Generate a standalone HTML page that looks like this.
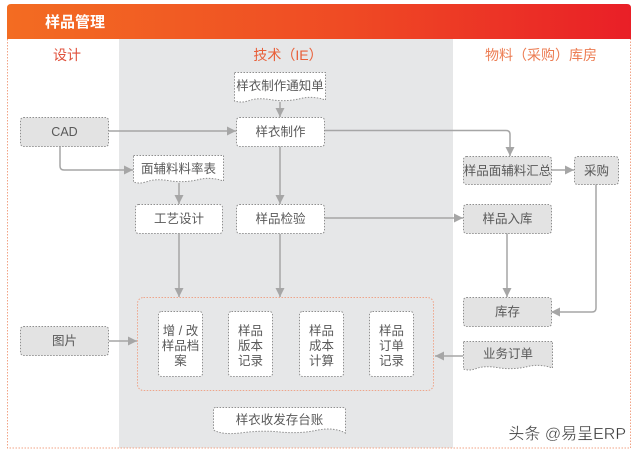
<!DOCTYPE html>
<html>
<head>
<meta charset="utf-8">
<style>
html,body{margin:0;padding:0;background:#fff;}
body{width:640px;height:457px;overflow:hidden;}
svg{display:block;}
text{font-family:"Liberation Sans","Noto Sans CJK SC",sans-serif;}
</style>
</head>
<body>
<svg width="640" height="457" viewBox="0 0 640 457" xmlns="http://www.w3.org/2000/svg">
<defs>
<linearGradient id="hg" x1="0" y1="0" x2="1" y2="0">
<stop offset="0" stop-color="#f36c22"/>
<stop offset="0.55" stop-color="#ef4a24"/>
<stop offset="1" stop-color="#e91f27"/>
</linearGradient>
<marker id="ar" viewBox="0 0 10 10" refX="10" refY="5" markerWidth="10" markerHeight="9" markerUnits="userSpaceOnUse" orient="auto">
<path d="M0,0 L10,5 L0,10 z" fill="#a6a6a6"/>
</marker>
</defs>

<!-- gray band -->
<rect x="119" y="39" width="334" height="409" fill="#e6e7e8"/>
<!-- outer dotted border -->
<path d="M7.5,39 V448 H630.5 V39" fill="none" stroke="#f2a385" stroke-width="1" stroke-dasharray="1.5 1.5"/>
<!-- header -->
<path d="M7,39 V8 Q7,4 11,4 H627 Q631,4 631,8 V39 Z" fill="url(#hg)"/>
<text x="45" y="27" font-size="15" font-weight="bold" fill="#fff">样品管理</text>

<!-- section titles -->
<text x="67" y="60" font-size="14" fill="#e0513c" text-anchor="middle">设计</text>
<text x="288" y="60" font-size="14" fill="#e8603a" text-anchor="middle">技术（IE）</text>
<text x="541" y="60" font-size="14" fill="#ec7c52" text-anchor="middle">物料（采购）库房</text>

<g fill="none" stroke="#a6a6a6" stroke-width="1.5">
<!-- connectors -->
<line x1="280" y1="102" x2="280" y2="117" marker-end="url(#ar)"/>
<line x1="109" y1="131" x2="236" y2="131" marker-end="url(#ar)"/>
<path d="M60,146 V166 Q60,170 64,170 H133" marker-end="url(#ar)"/>
<line x1="179" y1="183" x2="179" y2="204" marker-end="url(#ar)"/>
<line x1="280" y1="146" x2="280" y2="204" marker-end="url(#ar)"/>
<path d="M324,130.5 H506 Q510,130.5 510,134.5 V156" marker-end="url(#ar)"/>
<line x1="324" y1="218" x2="463" y2="218" marker-end="url(#ar)"/>
<line x1="551" y1="170" x2="574" y2="170" marker-end="url(#ar)"/>
<path d="M596,184 V308 Q596,312 592,312 H551" marker-end="url(#ar)"/>
<line x1="507" y1="233" x2="507" y2="297" marker-end="url(#ar)"/>
<line x1="179" y1="233" x2="179" y2="297" marker-end="url(#ar)"/>
<line x1="280" y1="234" x2="280" y2="297" marker-end="url(#ar)"/>
<line x1="109" y1="341" x2="137" y2="341" marker-end="url(#ar)"/>
<line x1="463" y1="356" x2="435" y2="356" marker-end="url(#ar)"/>
</g>

<!-- orange container -->
<rect x="137.5" y="297.5" width="296" height="93" rx="6" fill="none" stroke="#eea58a" stroke-width="1" stroke-dasharray="1.5 1.5"/>

<g stroke="#8f8f8f" stroke-width="1" stroke-dasharray="1.5 1.5">
<!-- gray boxes (white area) -->
<rect x="20.5" y="117.5" width="88" height="29" rx="3" fill="#e3e3e3"/>
<rect x="20.5" y="326.5" width="88" height="29" rx="3" fill="#e3e3e3"/>
<rect x="463.5" y="156.5" width="88" height="28" rx="3" fill="#e3e3e3"/>
<rect x="574.5" y="156.5" width="44" height="28" rx="3" fill="#e3e3e3"/>
<rect x="463.5" y="204.5" width="88" height="29" rx="3" fill="#e3e3e3"/>
<rect x="463.5" y="297.5" width="88" height="29" rx="3" fill="#e3e3e3"/>
<!-- document gray -->
<path d="M463.5,341.5 H552.5 V368 Q541,364 530,366 Q515,370 500,368 Q485,365 475,369 Q469,371 463.5,369 Z" fill="#e3e3e3"/>

<!-- white boxes (gray area) -->
<rect x="236.5" y="117.5" width="88" height="29" rx="3" fill="#fff"/>
<rect x="135.5" y="204.5" width="87" height="29" rx="3" fill="#fff"/>
<rect x="236.5" y="204.5" width="88" height="29" rx="3" fill="#fff"/>
<rect x="158.5" y="311.5" width="44" height="65" rx="3" fill="#fff"/>
<rect x="228.5" y="311.5" width="44" height="65" rx="3" fill="#fff"/>
<rect x="299.5" y="311.5" width="44" height="65" rx="3" fill="#fff"/>
<rect x="369.5" y="311.5" width="44" height="65" rx="3" fill="#fff"/>
<!-- documents white -->
<path d="M234.5,72.5 H325.5 V100 Q314,96 303,98 Q288,102 273,100 Q258,97 248,101 Q241,103 234.5,101 Z" fill="#fff"/>
<path d="M133.5,155.5 H223.5 V181 Q212,177 201,179 Q186,183 171,181 Q156,178 146,182 Q139,184 133.5,182 Z" fill="#fff"/>
<path d="M215.5,407.5 Q213.5,407.5 213.5,410 V430 Q222,435 240,433 Q262,430 280,432 Q300,434 318,430 Q334,427 345.5,433 V410 Q345.5,407.5 343,407.5 Z" fill="#fff"/>
</g>

<g font-size="12.5" fill="#595959" text-anchor="middle">
<text x="64.5" y="136">CAD</text>
<text x="64.5" y="345">图片</text>
<text x="507.5" y="175">样品面辅料汇总</text>
<text x="596.5" y="175">采购</text>
<text x="507.5" y="223">样品入库</text>
<text x="507.5" y="316">库存</text>
<text x="508" y="358">业务订单</text>
<text x="280" y="90">样衣制作通知单</text>
<text x="280.5" y="136">样衣制作</text>
<text x="178.5" y="173">面辅料料率表</text>
<text x="179" y="223">工艺设计</text>
<text x="280.5" y="223">样品检验</text>
<text x="279.5" y="424">样衣收发存台账</text>
<text x="180.5" y="335">增 / 改</text>
<text x="180.5" y="350">样品档</text>
<text x="180.5" y="365">案</text>
<text x="250.5" y="335">样品</text>
<text x="250.5" y="350">版本</text>
<text x="250.5" y="365">记录</text>
<text x="321.5" y="335">样品</text>
<text x="321.5" y="350">成本</text>
<text x="321.5" y="365">计算</text>
<text x="391.5" y="335">样品</text>
<text x="391.5" y="350">订单</text>
<text x="391.5" y="365">记录</text>
</g>

<!-- watermark -->
<text x="626" y="439" font-size="16" fill="#3a3a3a" text-anchor="end" stroke="#fff" stroke-width="0.3">头条 @易呈ERP</text>
</svg>
</body>
</html>
